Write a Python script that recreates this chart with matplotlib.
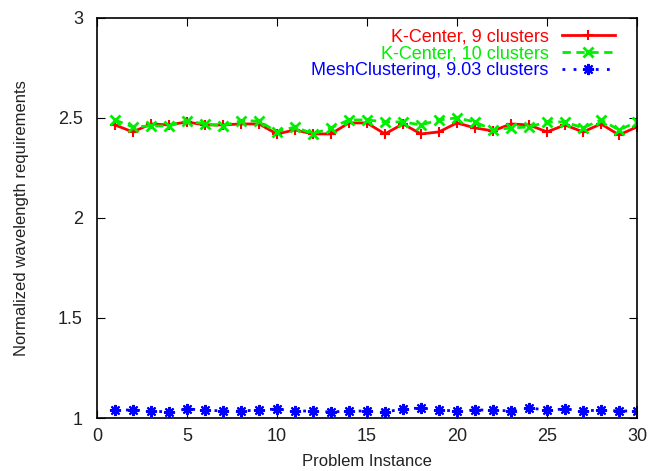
import matplotlib
matplotlib.use("Agg")
import matplotlib.pyplot as plt
import numpy as np

plt.rcParams["font.family"] = ["Liberation Sans", "DejaVu Sans"]
plt.rcParams["font.size"] = 12

# ── Data ─────────────────────────────────────────────────────────────────────
instances = np.arange(1, 31)

kcenter_9 = [2.465, 2.43, 2.47, 2.465, 2.48, 2.465, 2.465, 2.47, 2.47, 2.42,
             2.44, 2.42, 2.42, 2.475, 2.475, 2.42, 2.47, 2.42, 2.43, 2.475,
             2.45, 2.435, 2.47, 2.465, 2.43, 2.465, 2.43, 2.47, 2.415, 2.455]

kcenter_10 = [2.49, 2.455, 2.46, 2.46, 2.485, 2.47, 2.46, 2.485, 2.485, 2.43,
              2.455, 2.42, 2.45, 2.49, 2.49, 2.48, 2.48, 2.465, 2.49, 2.50,
              2.48, 2.44, 2.45, 2.455, 2.48, 2.48, 2.45, 2.49, 2.44, 2.48]

mesh_clustering = [1.04, 1.04, 1.035, 1.03, 1.045, 1.04, 1.035, 1.035, 1.04, 1.045,
                   1.035, 1.035, 1.03, 1.035, 1.035, 1.03, 1.045, 1.05, 1.04, 1.035,
                   1.04, 1.04, 1.035, 1.05, 1.04, 1.045, 1.035, 1.04, 1.035, 1.035]

labels = ["K-Center, 9 clusters", "K-Center, 10 clusters",
          "MeshClustering, 9.03 clusters"]

# ── Plot ─────────────────────────────────────────────────────────────────────
fig = plt.figure(figsize=(6.5, 4.71), dpi=100)
ax = fig.add_axes([0.149, 0.1125, 0.831, 0.8495])

ax.plot(instances, kcenter_9, color="#ff0000", lw=2, ls="-",
        marker="+", ms=7, mew=1.5, label=labels[0])
ax.plot(instances, kcenter_10, color="#00ee00", lw=2, ls=(0, (3, 2)),
        marker="x", ms=7, mew=2, label=labels[1])
ax.plot(instances, mesh_clustering, color="#0000ff", lw=2, ls=(0, (1, 3)),
        marker=(8, 2, 0), ms=8, mew=1.5, label=labels[2])

ax.set_xlim(0, 30)
ax.set_ylim(1, 3)
ax.set_xticks(np.arange(0, 31, 5))
ax.set_yticks([1, 1.5, 2, 2.5, 3])
ax.set_yticklabels(["1", "1.5", "2", "2.5", "3"])
ax.tick_params(direction="in", length=6, top=True, right=True,
               labelcolor="#222222", labelsize=13)
ax.tick_params(axis="y", pad=10)
ax.tick_params(axis="x", pad=7)
for sp in ax.spines.values():
    sp.set_linewidth(1.2)

ax.set_xlabel("Problem Instance", color="#222222", labelpad=7)
ax.set_ylabel("Normalized wavelength requirements", color="#222222", labelpad=21)

leg = ax.legend(loc="upper right", bbox_to_anchor=(0.972, 0.9925), frameon=False,
                markerfirst=False, labelcolor="linecolor", handlelength=2.9,
                handletextpad=0.75, borderaxespad=0, labelspacing=0.0,
                fontsize=13)
for t in leg.get_texts():
    t.set_ha("right")

fig.savefig("out.png", dpi=100)
